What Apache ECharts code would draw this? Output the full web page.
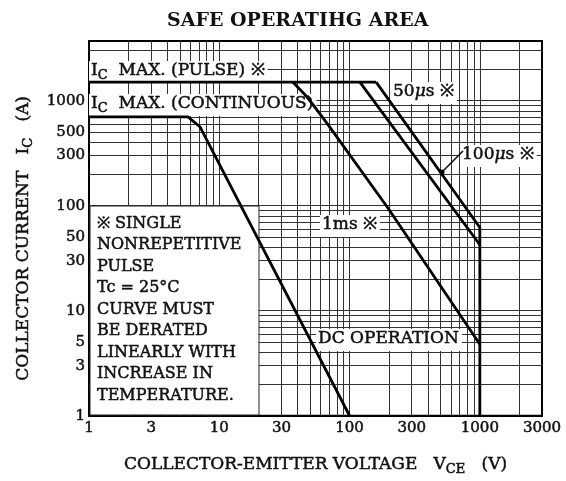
<!DOCTYPE html>
<html><head><meta charset="utf-8">
<script src="https://cdn.jsdelivr.net/npm/echarts@6/dist/echarts.min.js"></script>
<style>html,body{margin:0;padding:0;background:#fff}#c{width:566px;height:481px}</style>
</head><body><div id="c"></div>
<script>
// ---- data ----
const xTickLabels = [1, 3, 10, 30, 100, 300, 1000, 3000];
const yTickLabels = [1, 3, 5, 10, 30, 50, 100, 300, 500, 1000];
const xGridValues = [2, 3, 4, 5, 6, 7, 8, 9, 10, 20, 30, 40, 50, 60, 70, 80, 90, 100, 200, 300, 400, 500, 600, 700, 800, 900, 1000, 2000];
const yGridValues = [2, 3, 4, 5, 6, 7, 8, 9, 10, 20, 30, 40, 50, 60, 70, 80, 90, 100, 200, 300, 400, 500, 600, 700, 800, 900, 1000, 2000, 3000];
const icMaxPulse = [[1, 1500], [160, 1500]];
const dcOperation = [[1, 700], [5.75, 700], [7.1, 565], [100, 1]];
const pulse1ms = [[36.8, 1500], [45.5, 1140], [52.4, 916], [68.3, 591], [197, 95], [1000, 4.8]];
const pulse100us = [[120, 1500], [1000, 42.5]];
const pulse50us = [[160, 1500], [1000, 62], [1000, 1]];
const noteLines = ['※ SINGLE', 'NONREPETITIVE', 'PULSE', 'Tc = 25°C', 'CURVE MUST', 'BE DERATED', 'LINEARLY WITH', 'INCREASE IN', 'TEMPERATURE.'];

const SERIF = "'DejaVu Serif', serif";
const INK = '#111';
const chart = echarts.init(document.getElementById('c'), null, { renderer: 'canvas' });

function curve(name, data) {
  return {
    name, type: 'line', data, symbol: 'none', showSymbol: false, z: 5,
    lineStyle: { color: '#000', width: 2.8 }, animation: false
  };
}

// rich styles for ECharts axis names (ECharts text props)
const thick = { textBorderColor: INK, textBorderWidth: 0.5 };
const nameRich = {
  t: Object.assign({ fontFamily: SERIF, fontSize: 17, lineHeight: 20, verticalAlign: 'top', color: INK }, thick),
  s: Object.assign({ fontFamily: SERIF, fontSize: 13, lineHeight: 12, verticalAlign: 'bottom', color: INK }, thick)
};
// rich styles for graphic texts (zrender text props)
const zthick = { stroke: INK, lineWidth: 0.5 };
const gRich = {
  t: Object.assign({ fontFamily: SERIF, fontSize: 17, lineHeight: 20, verticalAlign: 'top', fill: INK }, zthick),
  s: Object.assign({ fontFamily: SERIF, fontSize: 13, lineHeight: 12, verticalAlign: 'bottom', fill: INK }, zthick),
  mu: Object.assign({ fontFamily: SERIF, fontSize: 17, lineHeight: 20, verticalAlign: 'top', fontStyle: 'italic', fill: INK }, zthick)
};

function label(x, y, text) {
  return {
    type: 'text', x, y, z: 2,
    style: {
      text, fontFamily: SERIF, fontSize: 17, fill: INK,
      backgroundColor: '#fff', padding: [1, 3, 1, 2], rich: gRich
    }
  };
}

const option = {
  animation: false,
  backgroundColor: '#fff',
  title: {
    text: 'SAFE OPERATIHG AREA', left: 162, top: 7,
    textStyle: { fontFamily: SERIF, fontSize: 19, fontWeight: 'bold', color: INK }
  },
  grid: { left: 89, top: 41, right: 24, bottom: 65, show: true, borderColor: '#000', borderWidth: 2, containLabel: false },
  xAxis: {
    type: 'log', logBase: 10, min: 1, max: 3000,
    name: '{t|COLLECTOR-EMITTER VOLTAGE   V}{s|CE}{t|   (V)}',
    nameLocation: 'middle', nameGap: 40,
    nameTextStyle: { fontFamily: SERIF, fontSize: 17, color: INK, rich: nameRich },
    axisLine: { show: true, lineStyle: { color: '#000', width: 2 } },
    axisTick: { show: true, inside: true, length: 375, customValues: xGridValues, lineStyle: { color: '#333', width: 1 } },
    axisLabel: Object.assign({ customValues: xTickLabels, fontFamily: SERIF, fontSize: 15, color: INK, margin: 5, formatter: v => String(Math.round(v)) }, thick),
    splitLine: { show: false }, minorTick: { show: false }
  },
  yAxis: {
    type: 'log', logBase: 10, min: 1, max: 3700,
    name: '{t|COLLECTOR CURRENT   I}{s|C}{t|   (A)}',
    nameLocation: 'middle', nameGap: 54,
    nameTextStyle: { fontFamily: SERIF, fontSize: 17, color: INK, rich: nameRich, padding: [0, 20, 0, 0] },
    axisLine: { show: true, lineStyle: { color: '#000', width: 2 } },
    axisTick: { show: true, inside: true, length: 453, customValues: yGridValues, lineStyle: { color: '#333', width: 1 } },
    axisLabel: Object.assign({ customValues: yTickLabels, fontFamily: SERIF, fontSize: 15, color: INK, margin: 4, formatter: v => String(Math.round(v)) }, thick),
    splitLine: { show: false }, minorTick: { show: false }
  },
  series: [
    curve('IC max pulse', icMaxPulse),
    curve('DC operation', dcOperation),
    curve('1ms', pulse1ms),
    curve('100us', pulse100us),
    curve('50us', pulse50us)
  ],
  graphic: [
    { type: 'rect', z: 1, shape: { x: 90, y: 206, width: 169, height: 209 }, style: { fill: '#fff', stroke: '#222', lineWidth: 1 } },
    {
      type: 'text', x: 97, y: 213, z: 2,
      style: Object.assign({ text: noteLines.join('\n'), fontFamily: SERIF, fontSize: 16, lineHeight: 21.5, fill: INK }, zthick)
    },
    label(89, 61, '{t|I}{s|C}{t|  MAX. (PULSE) ※}'),
    label(89, 94, '{t|I}{s|C}{t|  MAX. (CONTINUOUS)}'),
    label(391, 82, '{t|50}{mu|μ}{t|s ※}'),
    label(460, 145, '{t|100}{mu|μ}{t|s ※}'),
    label(320, 215, '{t|1ms ※}'),
    label(316, 329, '{t|DC OPERATION}'),
    { type: 'line', z: 6, shape: { x1: 442, y1: 172, x2: 463, y2: 151 }, style: { stroke: '#000', lineWidth: 1.5 } },
    { type: 'circle', z: 6, shape: { cx: 442, cy: 172, r: 2.5 }, style: { fill: '#000' } }
  ]
};
chart.setOption(option);
</script>
</body></html>
